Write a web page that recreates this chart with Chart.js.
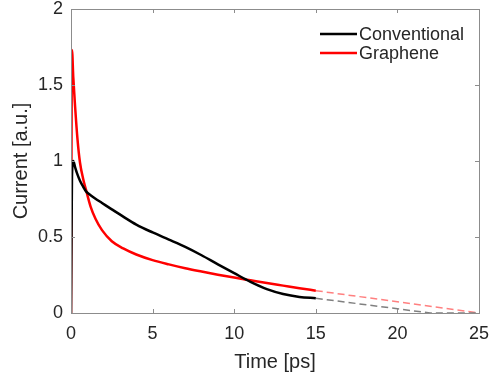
<!DOCTYPE html>
<html>
<head>
<meta charset="utf-8">
<script src="https://cdn.jsdelivr.net/npm/chart.js@4"></script>
<style>
  html, body { margin: 0; padding: 0; background: #fff; }
  #wrap { width: 489px; height: 374px; }
</style>
</head>
<body>
<div id="wrap"><canvas id="currentChart" width="489" height="374"></canvas></div>
<script>
// Simulated current pulses
const timePs = [0, 0.06, 0.14, 0.25, 0.4, 0.55, 0.75, 0.92, 1.2, 1.5, 1.9, 2.5, 3.2, 4, 5, 6, 7, 8, 9, 10, 11, 12, 13, 14, 15];
const conventional = [0, 0.9, 1.0, 0.96, 0.91, 0.87, 0.83, 0.80, 0.775, 0.752, 0.724, 0.682, 0.634, 0.582, 0.53, 0.483, 0.435, 0.38, 0.32, 0.262, 0.205, 0.157, 0.125, 0.106, 0.097];
const graphene = [0, 1.73, 1.55, 1.36, 1.14, 0.99, 0.88, 0.81, 0.70, 0.62, 0.545, 0.472, 0.425, 0.385, 0.348, 0.32, 0.295, 0.273, 0.252, 0.233, 0.215, 0.197, 0.18, 0.163, 0.147];

// Extrapolated tails (dashed)
const convTailTime = [15, 22, 25];
const convTail = [0.097, 0, 0];
const grapTailTime = [15, 25];
const grapTail = [0.147, 0];

const xTicks = [0, 5, 10, 15, 20, 25];
const yTicks = [0, 0.5, 1, 1.5, 2];

const toPoints = (xs, ys) => xs.map((x, i) => ({ x: x, y: ys[i] }));

const fontFamily = '"Liberation Sans", Arial, sans-serif';
const axisColor = '#8c8c8c';
const textColor = '#262626';

// MATLAB style box with inward ticks, plus the legend
const boxPlugin = {
    id: 'boxPlugin',
    afterDraw(chart) {
        const { ctx, chartArea: a, scales } = chart;
        ctx.save();
        ctx.strokeStyle = axisColor;
        ctx.lineWidth = 1;
        ctx.strokeRect(a.left + 0.5, a.top + 0.5, a.right - a.left, a.bottom - a.top);
        ctx.beginPath();
        xTicks.forEach(v => {
            const px = Math.round(scales.x.getPixelForValue(v)) + 0.5;
            ctx.moveTo(px, a.bottom);
            ctx.lineTo(px, a.bottom - 4);
            ctx.moveTo(px, a.top);
            ctx.lineTo(px, a.top + 4);
        });
        yTicks.forEach(v => {
            const py = Math.round(scales.y.getPixelForValue(v)) + 0.5;
            ctx.moveTo(a.left, py);
            ctx.lineTo(a.left + 4, py);
            ctx.moveTo(a.right, py);
            ctx.lineTo(a.right - 4, py);
        });
        ctx.stroke();

        const items = chart.data.datasets.filter(d => d.inLegend);
        ctx.font = '18px ' + fontFamily;
        ctx.textBaseline = 'middle';
        items.forEach((d, i) => {
            const y = 34 + i * 19;
            ctx.strokeStyle = d.borderColor;
            ctx.lineWidth = 2.5;
            ctx.beginPath();
            ctx.moveTo(320, y);
            ctx.lineTo(357, y);
            ctx.stroke();
            ctx.fillStyle = textColor;
            ctx.fillText(d.label, 359, y + 1);
        });
        ctx.restore();
    }
};

new Chart(document.getElementById('currentChart'), {
    type: 'line',
    data: {
        datasets: [{
            label: 'Conventional',
            data: toPoints(timePs, conventional),
            borderColor: '#000000',
            borderWidth: 2.5,
            inLegend: true
        }, {
            label: 'Graphene',
            data: toPoints(timePs, graphene),
            borderColor: '#ff0000',
            borderWidth: 2.5,
            inLegend: true
        }, {
            label: 'Conventional tail',
            data: toPoints(convTailTime, convTail),
            borderColor: '#808080',
            borderWidth: 1.5,
            borderDash: [7, 4],
            cubicInterpolationMode: 'default',
            tension: 0
        }, {
            label: 'Graphene tail',
            data: toPoints(grapTailTime, grapTail),
            borderColor: '#ff8080',
            borderWidth: 1.5,
            borderDash: [7, 4],
            cubicInterpolationMode: 'default',
            tension: 0
        }]
    },
    options: {
        responsive: false,
        animation: false,
        cubicInterpolationMode: 'monotone',
        elements: { point: { radius: 0 } },
        layout: { padding: 0 },
        plugins: { legend: { display: false }, tooltip: { enabled: false } },
        scales: {
            x: {
                type: 'linear',
                min: 0,
                max: 25,
                afterBuildTicks: s => { s.ticks = xTicks.map(v => ({ value: v })); },
                afterFit: s => {
                    s.height = 61;
                    s.paddingLeft = 0;
                    s.paddingRight = 10;
                },
                grid: { display: false, drawTicks: false },
                border: { display: false },
                ticks: {
                    color: textColor,
                    padding: 10,
                    maxRotation: 0,
                    font: { family: fontFamily, size: 18 }
                },
                title: {
                    display: true,
                    text: 'Time [ps]',
                    color: textColor,
                    padding: { top: 1, bottom: 0 },
                    font: { family: fontFamily, size: 20 }
                }
            },
            y: {
                min: 0,
                max: 2,
                afterBuildTicks: s => { s.ticks = yTicks.map(v => ({ value: v })); },
                afterFit: s => {
                    s.width = 71;
                    s.paddingTop = 9;
                    s.paddingBottom = 0;
                },
                grid: { display: false, drawTicks: false },
                border: { display: false },
                ticks: {
                    color: textColor,
                    padding: 8,
                    font: { family: fontFamily, size: 18 },
                    callback: v => String(v)
                },
                title: {
                    display: true,
                    text: 'Current [a.u.]',
                    color: textColor,
                    padding: { top: 9, bottom: 0 },
                    font: { family: fontFamily, size: 20 }
                }
            }
        }
    },
    plugins: [boxPlugin]
});
</script>
</body>
</html>
